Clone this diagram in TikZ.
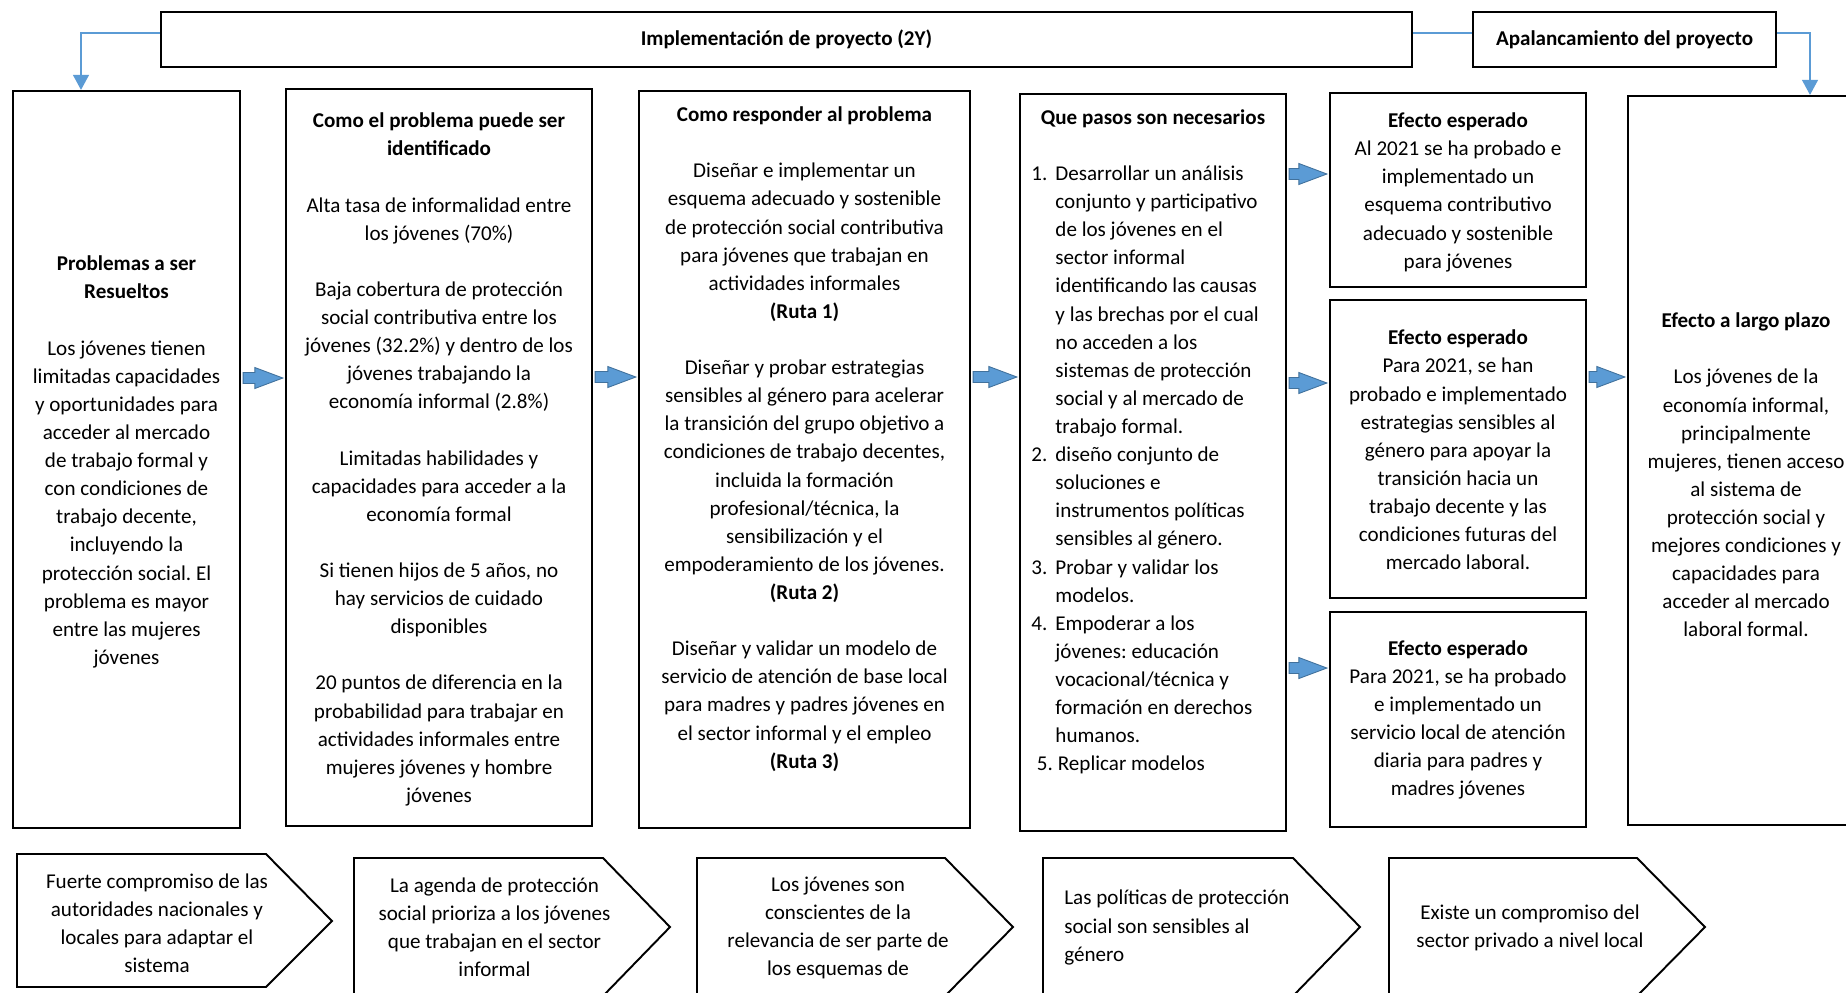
\documentclass[tikz,border=0pt]{standalone}
\usepackage{fontspec}
\setmainfont{Carlito}
\usetikzlibrary{calc,arrows.meta}
\frenchspacing
\definecolor{accblue}{HTML}{5B9BD5}
\definecolor{accdark}{HTML}{41719C}
\tikzset{
  box/.style={draw=black, line width=1.3pt, rectangle, inner sep=0pt},
  txt/.style={font=\fontsize{12}{16}\selectfont, align=center, inner sep=0pt},
  ltxt/.style={font=\fontsize{12}{16}\selectfont, align=left, inner sep=0pt},
  chev/.style={draw=black, line width=1.1pt, line join=miter},
  conn/.style={draw=accblue, line width=0.7pt, -{Triangle[length=0.3cm,width=0.32cm]}},
  connline/.style={draw=accblue, line width=0.7pt},
  barrow/.style={fill=accblue, draw=accdark, line width=0.5pt, line join=miter},
}
\newcommand\pbox[5]{\node[box, minimum width={(#4-#2)*0.02cm}, minimum height={(#5-#3)*0.02cm}] (#1) at ({(#2+#4)/2},{(#3+#5)/2}) {};}
\newcommand\blockarr[2]{%
  \draw[barrow] ($(#1)+(0,-5.5)$) -- ($(#2)+(-28,-5.5)$) -- ($(#2)+(-28,-10.5)$) -- (#2)
    -- ($(#2)+(-28,10.5)$) -- ($(#2)+(-28,5.5)$) -- ($(#1)+(0,5.5)$) -- cycle;}
\newcommand\barr[4]{%
  \coordinate (#4y) at (0,#3);
  \path (#1.east |- #4y) ++(2,0) coordinate (#4s);
  \path (#2.west |- #4y) ++(-2,0) coordinate (#4e);
  \blockarr{#4s}{#4e}}
\begin{document}
\begin{tikzpicture}[x=0.02cm,y=-0.02cm]
\fill[white] (0,0) rectangle (1846,992);
\useasboundingbox (0,0) rectangle (1846,992);

% header boxes
\pbox{top}{161}{12}{1412}{67}
\pbox{apal}{1473}{12}{1776}{67}
\node[txt] (topt) at (top.center) {\textbf{Implementación de proyecto (2Y)}};
\node[txt] (apalt) at (apal.center) {\textbf{Apalancamiento del proyecto}};

% main boxes
\pbox{b1}{13}{91}{240}{828}
\pbox{b2}{286}{89}{592}{826}
\pbox{b3}{639}{91}{970}{828}
\pbox{b4}{1020}{94}{1286}{831}
\pbox{e1}{1330}{93}{1586}{287}
\pbox{e2}{1330}{300}{1586}{598}
\pbox{e3}{1330}{612}{1586}{827}
\pbox{largo}{1628}{96}{1920}{825}

\node[txt] (b1t) at (126.5,462) {\textbf{Problemas a ser}\\ \textbf{Resueltos}\\[16pt]
Los jóvenes tienen\\ limitadas capacidades\\ y oportunidades para\\ acceder al mercado\\ de trabajo formal y\\ con condiciones de\\ trabajo decente,\\ incluyendo la\\ protección social. El\\ problema es mayor\\ entre las mujeres\\ jóvenes};

\node[txt] (b2t) at (439,459.5) {\textbf{Como el problema puede ser}\\ \textbf{identificado}\\[16pt]
Alta tasa de informalidad entre\\ los jóvenes (70\%)\\[16pt]
Baja cobertura de protección\\ social contributiva entre los\\ jóvenes (32.2\%) y dentro de los\\ jóvenes trabajando la\\ economía informal (2.8\%)\\[16pt]
Limitadas habilidades y\\ capacidades para acceder a la\\ economía formal\\[16pt]
Si tienen hijos de 5 años, no\\ hay servicios de cuidado\\ disponibles\\[16pt]
20 puntos de diferencia en la\\ probabilidad para trabajar en\\ actividades informales entre\\ mujeres jóvenes y hombre\\ jóvenes};

\node[txt, anchor=north] (b3t) at (804.5,106.5) {\textbf{Como responder al problema}\\[16pt]
Diseñar e implementar un\\ esquema adecuado y sostenible\\ de protección social contributiva\\ para jóvenes que trabajan en\\ actividades informales\\ \textbf{(Ruta 1)}\\[16pt]
Diseñar y probar estrategias\\ sensibles al género para acelerar\\ la transición del grupo objetivo a\\ condiciones de trabajo decentes,\\ incluida la formación\\ profesional/técnica, la\\ sensibilización y el\\ empoderamiento de los jóvenes.\\ \textbf{(Ruta 2)}\\[16pt]
Diseñar y validar un modelo de\\ servicio de atención de base local\\ para madres y padres jóvenes en\\ el sector informal y el empleo\\ \textbf{(Ruta 3)}};

\node[txt, anchor=north] (b4h) at (1153,109) {\textbf{Que pasos son necesarios}};
\node[ltxt, anchor=north west] (b4l) at (1031,165.5) {%
\makebox[13.7pt][l]{1.}Desarrollar un análisis\\
\hspace*{13.7pt}conjunto y participativo\\
\hspace*{13.7pt}de los jóvenes en el\\
\hspace*{13.7pt}sector informal\\
\hspace*{13.7pt}identificando las causas\\
\hspace*{13.7pt}y las brechas por el cual\\
\hspace*{13.7pt}no acceden a los\\
\hspace*{13.7pt}sistemas de protección\\
\hspace*{13.7pt}social y al mercado de\\
\hspace*{13.7pt}trabajo formal.\\
\makebox[13.7pt][l]{2.}diseño conjunto de\\
\hspace*{13.7pt}soluciones e\\
\hspace*{13.7pt}instrumentos políticas\\
\hspace*{13.7pt}sensibles al género.\\
\makebox[13.7pt][l]{3.}Probar y validar los\\
\hspace*{13.7pt}modelos.\\
\makebox[13.7pt][l]{4.}Empoderar a los\\
\hspace*{13.7pt}jóvenes: educación\\
\hspace*{13.7pt}vocacional/técnica y\\
\hspace*{13.7pt}formación en derechos\\
\hspace*{13.7pt}humanos.\\
\hspace*{3.2pt}\makebox[11.9pt][l]{5.}Replicar modelos};

\node[txt, anchor=north] (e1t) at (1458,112.5) {\textbf{Efecto esperado}\\ Al 2021 se ha probado e\\ implementado un\\ esquema contributivo\\ adecuado y sostenible\\ para jóvenes};
\node[txt] (e2t) at (1458,450) {\textbf{Efecto esperado}\\ Para 2021, se han\\ probado e implementado\\ estrategias sensibles al\\ género para apoyar la\\ transición hacia un\\ trabajo decente y las\\ condiciones futuras del\\ mercado laboral.};
\node[txt] (e3t) at (1458,720) {\textbf{Efecto esperado}\\ Para 2021, se ha probado\\ e implementado un\\ servicio local de atención\\ diaria para padres y\\ madres jóvenes};
\node[txt] (largot) at (1746,475) {\textbf{Efecto a largo plazo}\\[16pt] Los jóvenes de la\\ economía informal,\\ principalmente\\ mujeres, tienen acceso\\ al sistema de\\ protección social y\\ mejores condiciones y\\ capacidades para\\ acceder al mercado\\ laboral formal.};

% header connectors
\coordinate (cL) at (81,33);
\coordinate (cR) at (1810,33);
\draw[conn] (top.west |- cL) -| (b1.north -| cL);
\draw[connline] (top.east |- cL) -- (apal.west |- cL);
\draw[conn] (apal.east |- cR) -| (largo.north -| cR);

% block arrows
\barr{b1}{b2}{378}{ba}
\barr{b2}{b3}{377}{bb}
\barr{b3}{b4}{377}{bc}
\barr{b4}{e1}{174}{bd}
\barr{b4}{e2}{383}{be}
\barr{b4}{e3}{668}{bf}
\barr{e2}{largo}{377}{bg}

% chevrons
\draw[chev] (17,854) coordinate (ch1) -- (266,854) -- (332,921) -- (266,987) -- (17,987) -- cycle;
\draw[chev] (354,858) coordinate (ch2) -- (603,858) -- (670,927) -- (603,996) -- (354,996) -- cycle;
\draw[chev] (697,858) coordinate (ch3) -- (945,858) -- (1013,927) -- (945,996) -- (697,996) -- cycle;
\draw[chev] (1043,858) coordinate (ch4) -- (1293,858) -- (1360,927) -- (1293,996) -- (1043,996) -- cycle;
\draw[chev] (1389,858) coordinate (ch5) -- (1637,858) -- (1705,927) -- (1637,996) -- (1389,996) -- cycle;

\node[txt] (ch1t) at (157,923) {Fuerte compromiso de las\\ autoridades nacionales y\\ locales para adaptar el\\ sistema};
\node[txt] (ch2t) at (494.5,927.5) {La agenda de protección\\ social prioriza a los jóvenes\\ que trabajan en el sector\\ informal};
\node[txt] (ch3t) at (838,928) {Los jóvenes son\\ conscientes de la\\ relevancia de ser parte de\\ los esquemas de};
\node[ltxt, anchor=west] (ch4t) at (1064,927.5) {Las políticas de protección\\ social son sensibles al\\ género};
\node[txt] (ch5t) at (1530,927.5) {Existe un compromiso del\\ sector privado a nivel local};
\end{tikzpicture}
\end{document}
